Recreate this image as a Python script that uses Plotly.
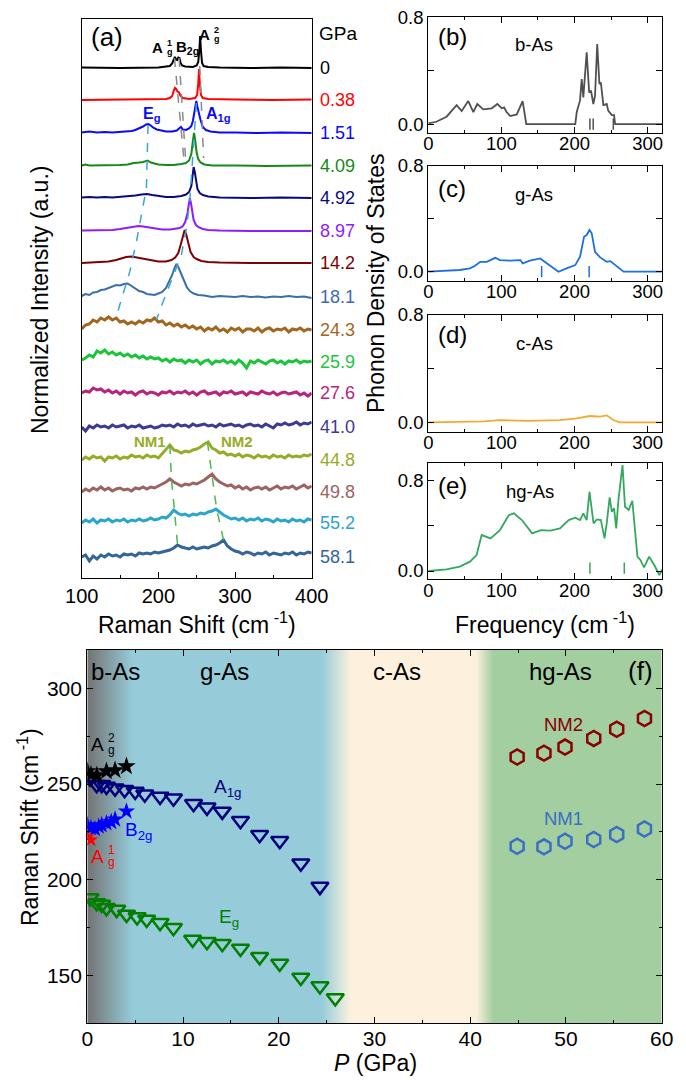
import plotly.graph_objects as go

W, H = 686, 1080
OFF = 8                      # page body margin of the browser
FW, FH = W - OFF, H - OFF    # figure size so that it fits the window
FONT = "Liberation Sans, Arial, sans-serif"

# ---------------- Panel (a): Raman spectra ----------------
PRESSURES = ["0", "0.38", "1.51", "4.09", "4.92", "8.97", "14.2", "18.1",
             "24.3", "25.9", "27.6", "41.0", "44.8", "49.8", "55.2", "58.1"]
OFFSETS = [51.0, 47.8, 44.5, 41.2, 38.0, 34.7, 31.5, 28.1,
           24.8, 21.6, 18.5, 15.1, 11.8, 8.6, 5.5, 2.1]
SPEC_COLORS = ["#000000", "#ff0000", "#0a0aff", "#168a16", "#0a0a80", "#8f1cff",
               "#7f0000", "#3a6eaa", "#a3661e", "#19c63a", "#b8237e", "#3b3b95",
               "#98ab28", "#9c6361", "#2aa5d0", "#33659b"]

S0_X = [100, 150, 200, 210, 215, 218, 220, 221.5, 223, 224.5, 226, 227.5, 229, 231, 235, 245, 250, 252, 253.5, 254.5, 255.5, 257, 259, 265, 280, 320, 360, 400]
S0_I = [0.05, 0.0, 0.05, 0.1, 0.2, 0.45, 0.9, 1.1, 0.85, 0.8, 1.05, 1.0, 0.5, 0.25, 0.15, 0.1, 0.25, 0.6, 1.8, 3.2, 1.8, 0.5, 0.2, 0.1, 0.05, 0.0, 0.05, 0.0]
S1_X = [100, 150, 200, 210, 215, 218, 220, 221.5, 223, 225, 227, 229, 232, 240, 248, 250.5, 252, 253, 254, 255.5, 258, 265, 300, 350, 400]
S1_I = [0.0, 0.05, 0.05, 0.1, 0.2, 0.4, 0.9, 1.2, 1.1, 0.85, 0.75, 0.4, 0.2, 0.1, 0.2, 0.5, 1.6, 3.1, 1.7, 0.5, 0.2, 0.1, 0.05, 0.0, 0.05]
S2_X = [100, 110, 120, 130, 140, 150, 160, 165, 170, 175, 180, 184, 187, 190, 194, 198, 203, 210, 218, 224, 227, 229.5, 232, 236, 240, 243, 245, 247, 248.5, 249.5, 251, 253, 255, 258, 262, 268, 280, 300, 330, 360, 400]
S2_I = [0.05, 0.15, 0.05, 0.1, 0.05, 0.1, 0.15, 0.2, 0.3, 0.45, 0.65, 0.85, 0.9, 0.75, 0.5, 0.35, 0.25, 0.15, 0.15, 0.25, 0.45, 0.6, 0.35, 0.3, 0.45, 0.7, 1.2, 2.2, 2.9, 3.2, 2.6, 1.9, 1.3, 0.6, 0.3, 0.15, 0.05, 0.05, 0.0, 0.05, 0.0]
S3_X = [100, 105, 110, 120, 130, 140, 150, 160, 168, 175, 180, 186, 190, 195, 200, 210, 220, 230, 236, 240, 243, 245, 246.5, 248, 250, 252, 255, 260, 270, 300, 340, 400]
S3_I = [0.05, 0.15, 0.05, 0.05, 0.05, 0.05, 0.1, 0.15, 0.3, 0.35, 0.4, 0.55, 0.35, 0.25, 0.15, 0.1, 0.1, 0.2, 0.3, 0.55, 1.2, 2.5, 3.3, 2.6, 1.3, 0.7, 0.35, 0.15, 0.05, 0.05, 0.0, 0.05]
S4_X = [100, 110, 120, 130, 140, 150, 160, 170, 178, 185, 192, 200, 210, 220, 230, 236, 240, 243, 245, 246, 247.5, 249, 251, 254, 258, 265, 280, 320, 360, 400]
S4_I = [0.05, 0.1, 0.05, 0.1, 0.05, 0.1, 0.15, 0.25, 0.35, 0.4, 0.3, 0.2, 0.1, 0.1, 0.2, 0.35, 0.6, 1.2, 2.3, 3.1, 2.6, 1.6, 0.9, 0.5, 0.3, 0.15, 0.05, 0.0, 0.05, 0.0]
S5_X = [100, 120, 140, 150, 160, 168, 174, 180, 188, 196, 205, 215, 222, 228, 232, 235, 238, 240, 241, 242.5, 244, 246, 249, 253, 258, 265, 280, 320, 400]
S5_I = [0.05, 0.05, 0.1, 0.2, 0.35, 0.45, 0.5, 0.45, 0.35, 0.2, 0.15, 0.15, 0.2, 0.3, 0.5, 0.9, 1.8, 2.8, 3.3, 2.8, 1.9, 1.1, 0.6, 0.35, 0.2, 0.1, 0.05, 0.0, 0.0]
S6_X = [100, 120, 135, 145, 152, 158, 165, 172, 180, 190, 200, 210, 217, 222, 226, 229, 232, 234.3, 236.5, 239, 242, 246, 250, 256, 265, 280, 320, 400]
S6_I = [0.0, 0.05, 0.15, 0.3, 0.45, 0.6, 0.65, 0.55, 0.4, 0.25, 0.15, 0.15, 0.3, 0.55, 1.0, 1.8, 2.8, 3.3, 2.8, 1.9, 1.1, 0.6, 0.4, 0.2, 0.1, 0.05, 0.0, 0.0]
S7_X = [100, 105, 110, 115, 120, 125, 130, 135, 140, 145, 150, 155, 160, 165, 170, 175, 180, 185, 190, 195, 200, 205, 210, 214, 218, 221, 223.5, 226, 229, 233, 237, 241, 246, 252, 260, 270, 280, 290, 300, 310, 320, 330, 340, 350, 360, 370, 380, 390, 400]
S7_I = [0.1, 0.3, 0.2, 0.45, 0.5, 0.7, 0.75, 0.9, 1.0, 1.2, 1.15, 1.3, 1.35, 1.1, 0.85, 0.6, 0.5, 0.3, 0.25, 0.2, 0.35, 0.5, 0.9, 1.5, 2.2, 2.9, 3.3, 3.0, 2.4, 1.6, 1.0, 0.6, 0.35, 0.2, 0.15, 0.0, 0.1, 0.05, 0.0, 0.1, 0.0, 0.05, -0.05, 0.05, 0.0, 0.1, 0.0, 0.05, -0.1]

NOISY_X = [100, 105, 110, 115, 120, 125, 130, 135, 140, 145, 150, 155, 160, 165, 170, 175, 180, 185, 190, 195,
           200, 205, 210, 215, 220, 225, 230, 235, 240, 245, 250, 255, 260, 265, 270, 275, 280, 285, 290, 295,
           300, 305, 310, 315, 320, 325, 330, 335, 340, 345, 350, 355, 360, 365, 370, 375, 380, 385, 390, 395, 400]
S8_I = [0.1, 0.5, 0.6, 1.0, 0.8, 1.2, 1.0, 1.3, 1.0, 1.2, 0.8, 0.9, 0.6, 0.8, 0.6, 0.9, 0.7, 1.0, 0.9, 1.2,
        0.8, 0.9, 0.5, 0.7, 0.4, 0.6, 0.3, 0.5, 0.2, 0.4, 0.1, 0.3, -0.1, 0.2, 0.0, 0.3, -0.1, 0.1, -0.2, 0.2,
        0.0, 0.2, -0.2, 0.1, 0.1, -0.1, 0.2, -0.2, 0.1, 0.2, -0.1, 0.1, 0.0, 0.2, -0.2, 0.1, 0.0, 0.2, -0.1, 0.1, 0.0]
S9_I = [0.2, 0.4, 0.7, 0.5, 1.1, 0.9, 1.2, 0.8, 1.0, 0.7, 0.9, 0.6, 0.8, 0.5, 0.7, 0.4, 0.6, 0.3, 0.5, 0.3,
        0.4, 0.1, 0.3, 0.0, 0.3, 0.1, 0.2, -0.1, 0.2, 0.0, 0.2, -0.2, 0.1, 0.2, -0.2, 0.1, 0.0, 0.2, -0.1, 0.1,
        -0.2, 0.2, -0.1, -0.6, 0.1, -0.1, 0.2, 0.0, -0.2, 0.1, 0.2, -0.1, 0.1, -0.2, 0.1, 0.0, 0.2, -0.1, 0.1, 0.0, 0.1]
S10_I = [0.0, 0.2, 0.1, 0.5, 0.3, 0.4, 0.1, 0.3, 0.0, 0.2, -0.1, 0.2, 0.0, 0.1, -0.2, 0.1, 0.2, -0.1, 0.1, 0.0,
         -0.2, 0.1, 0.0, 0.2, -0.1, 0.1, 0.0, 0.2, -0.1, 0.1, -0.2, 0.1, 0.2, -0.1, 0.0, 0.1, -0.2, 0.1, 0.0, 0.2,
         -0.1, 0.0, 0.1, -0.2, 0.1, 0.0, -0.1, 0.2, 0.0, -0.1, 0.1, -0.2, 0.0, 0.1, -0.1, 0.0, 0.1, -0.2, 0.0, -0.3, 0.0]
S11_I = [0.0, -0.4, 0.1, -0.1, 0.2, 0.0, 0.1, -0.1, 0.2, 0.0, 0.1, 0.2, -0.1, 0.1, 0.0, 0.2, -0.1, 0.0, 0.1, -0.1,
         0.0, 0.2, 0.1, 0.2, 0.0, 0.3, 0.1, 0.2, 0.0, 0.3, 0.1, 0.2, 0.3, 0.1, 0.2, 0.0, 0.3, 0.1, 0.2, 0.3,
         0.1, 0.2, 0.0, 0.2, 0.3, 0.1, 0.2, 0.0, 0.3, 0.1, -0.1, 0.3, 0.2, 0.4, 0.2, 0.3, 0.5, 0.2, 0.4, 0.3, 0.5]
S12_I = [0.0, 0.3, 0.1, 0.4, 0.2, 0.3, -0.1, 0.3, 0.2, 0.4, 0.1, 0.3, 0.2, 0.5, 0.3, 0.4, 0.2, 0.5, 0.3, 0.4,
         0.2, 0.6, 1.0, 1.5, 1.0, 0.9, 0.7, 0.9, 0.8, 1.0, 1.1, 1.3, 1.6, 1.8, 1.2, 1.0, 0.7, 0.8, 0.5, 0.6,
         0.4, 0.6, 0.3, 0.5, 0.4, 0.2, 0.5, 0.3, 0.4, 0.2, 0.5, 0.3, 0.4, 0.2, 0.5, 0.3, 0.4, 0.3, 0.5, 0.4, 0.6]
S13_I = [0.0, 0.3, 0.1, 0.4, 0.2, 0.5, 0.2, 0.4, 0.1, 0.3, 0.4, 0.2, 0.3, 0.1, 0.4, 0.3, 0.5, 0.3, 0.5, 0.4,
         0.6, 0.8, 1.0, 1.3, 1.0, 0.8, 0.6, 0.8, 0.7, 0.9, 0.8, 1.0, 1.2, 1.5, 1.8, 1.3, 1.0, 0.8, 0.6, 0.7,
         0.4, 0.6, 0.3, 0.5, 0.2, 0.4, 0.5, 0.3, 0.5, 0.2, 0.4, 0.6, 0.3, 0.5, 0.4, 0.6, 0.3, 0.5, 0.7, 0.4, 0.6]
S14_I = [0.0, 0.3, 0.1, 0.4, 0.0, 0.3, 0.2, 0.4, 0.1, 0.3, 0.2, 0.4, 0.1, 0.3, 0.2, 0.4, 0.2, 0.3, 0.5, 0.3,
         0.4, 0.6, 0.5, 0.8, 1.3, 1.0, 0.8, 0.9, 0.7, 0.9, 0.8, 1.0, 0.9, 1.1, 1.2, 1.4, 1.1, 0.8, 0.6, 0.4,
         0.5, 0.3, 0.5, 0.2, 0.4, 0.3, 0.5, 0.2, 0.4, 0.3, 0.1, 0.4, 0.2, 0.3, 0.1, 0.4, 0.2, 0.3, 0.1, 0.4, 0.3]
S15_I = [0.0, 0.2, -0.4, 0.1, -0.2, 0.2, 0.0, 0.3, 0.1, 0.2, 0.0, 0.3, 0.2, 0.3, 0.1, 0.4, 0.3, 0.4, 0.3, 0.5,
         0.4, 0.5, 0.6, 0.7, 0.9, 1.2, 1.0, 0.9, 0.8, 1.0, 0.8, 0.9, 1.0, 0.9, 1.1, 1.2, 1.4, 1.7, 1.1, 0.8,
         0.6, 0.5, 0.3, 0.5, 0.4, 0.2, 0.4, 0.3, 0.5, 0.2, 0.4, 0.3, 0.2, 0.4, 0.3, 0.5, 0.2, 0.4, 0.3, 0.5, 0.4]

SPEC_X = [S0_X, S1_X, S2_X, S3_X, S4_X, S5_X, S6_X, S7_X] + [NOISY_X] * 8
SPEC_I = [S0_I, S1_I, S2_I, S3_I, S4_I, S5_I, S6_I, S7_I,
          S8_I, S9_I, S10_I, S11_I, S12_I, S13_I, S14_I, S15_I]

# guide lines through peak positions (shift, stacked intensity)
GUIDE_AG1_X = [221, 234]; GUIDE_AG1_Y = [52.0, 41.3]
GUIDE_B2G_X = [227, 236]; GUIDE_B2G_Y = [52.0, 41.3]
GUIDE_AG2_X = [254, 259]; GUIDE_AG2_Y = [51.2, 42.0]
GUIDE_EG_X = [186.5, 184.4, 171.3, 162.6, 149.6, 145.3]
GUIDE_EG_Y = [45.3, 39.0, 33.6, 30.6, 27.3, 26.1]
GUIDE_A1G_X = [249.6, 240.9, 236.6, 230.0, 206.0, 197.4]
GUIDE_A1G_Y = [47.5, 37.6, 35.0, 32.3, 27.6, 25.8]
GUIDE_NM1_X = [215, 217, 221, 225]; GUIDE_NM1_Y = [13.3, 9.9, 6.8, 3.3]
GUIDE_NM2_X = [264, 270, 276, 285]; GUIDE_NM2_Y = [13.6, 10.4, 6.9, 3.8]

# ---------------- Panels (b)-(e): phonon DOS ----------------
B_FREQ = [0, 11, 25, 38.7, 45.6, 54.7, 61.6, 67, 75.3, 86.7, 94.5, 100.5, 103.6, 107, 112, 121, 129, 131.6, 134,
          201, 203, 207.5, 209.8, 212, 216.6, 220, 222.5, 225.7, 228, 231, 234, 236, 239.4, 244, 246, 251, 254, 255.5, 320]
B_DOS = [0.005, 0.017, 0.055, 0.142, 0.097, 0.172, 0.09, 0.15, 0.11, 0.118, 0.15, 0.118, 0.125, 0.09, 0.06, 0.072, 0.172, 0.067, 0.0,
         0.0, 0.09, 0.177, 0.337, 0.2, 0.537, 0.236, 0.25, 0.15, 0.21, 0.6, 0.3, 0.31, 0.142, 0.15, 0.1, 0.067, 0.067, 0.0, 0.0]
C_FREQ = [0, 43, 57, 64, 71, 80, 91.6, 98, 112, 126, 129, 139, 153, 162, 171, 178, 189, 201, 207.5, 213, 216.6, 220.4,
          223.5, 228, 235, 244, 249, 258, 267, 320]
C_DOS = [0.0, 0.013, 0.025, 0.045, 0.075, 0.075, 0.105, 0.088, 0.083, 0.088, 0.063, 0.083, 0.1, 0.063, 0.025, 0.0, 0.025, 0.05,
         0.113, 0.264, 0.277, 0.315, 0.29, 0.15, 0.108, 0.075, 0.08, 0.038, 0.0, 0.0]
D_FREQ = [0, 57, 76, 98, 135, 180, 203, 221, 235, 244, 253, 262, 320]
D_DOS = [0.0, 0.005, 0.007, 0.017, 0.01, 0.017, 0.03, 0.047, 0.042, 0.052, 0.017, 0.0, 0.0]
E_FREQ = [0, 25, 43, 57, 66, 70, 73, 85, 98, 110, 117, 128, 142, 154, 167, 180, 192, 201, 207.5, 212, 216.6, 220.4,
          226, 230.5, 236, 241, 244, 248, 251, 254, 257, 260, 265.6, 269, 274, 279, 282, 286, 290, 295, 302, 309, 316, 320]
E_DOS = [0.0, 0.015, 0.038, 0.082, 0.14, 0.243, 0.316, 0.287, 0.36, 0.49, 0.507, 0.448, 0.331, 0.36, 0.355, 0.375, 0.448,
         0.469, 0.448, 0.507, 0.448, 0.697, 0.419, 0.454, 0.448, 0.287, 0.419, 0.648, 0.521, 0.551, 0.375, 0.624, 0.932,
         0.565, 0.536, 0.618, 0.419, 0.126, 0.097, 0.032, 0.126, 0.053, -0.035, 0.015]
B_MODES = [221, 225.5, 253]
C_MODES = [155, 220]
E_MODES = [221, 268]
DOS_FREQ = [B_FREQ, C_FREQ, D_FREQ, E_FREQ]
DOS_VAL = [B_DOS, C_DOS, D_DOS, E_DOS]
DOS_MODES = [B_MODES, C_MODES, [], E_MODES]
DOS_LABELS = ["(b)", "(c)", "(d)", "(e)"]
DOS_PHASES = ["b-As", "g-As", "c-As", "hg-As"]
DOS_COLORS = ["#505050", "#1d6fe0", "#f2a930", "#34a85e"]

# ---------------- Panel (f): Raman shift vs pressure ----------------
AG2_P = [0.0, 0.38, 1.0, 2.0, 2.9, 4.09]
AG2_W = [256.6, 254.8, 254.5, 256.6, 257.2, 259.2]
B2G_P = [0.0, 0.38, 0.8, 1.2, 1.51, 2.0, 2.5, 2.9, 4.09]
B2G_W = [228.5, 227.0, 226.5, 227.8, 228.5, 229.5, 230.2, 231.5, 235.7]
AG1_P = [0.0, 0.38]
AG1_W = [222.4, 220.8]
A1G_P = [0.28, 0.98, 1.5, 2.0, 2.9, 3.9, 5.0, 6.0, 7.6, 9.0, 11.1, 12.5, 14.1, 16.0, 18.0, 20.1, 22.3, 24.3]
A1G_W = [253.0, 249.6, 249.6, 248.7, 247.8, 247.0, 246.1, 244.7, 243.5, 242.6, 239.7, 237.8, 235.7, 230.8, 223.5, 220.4, 208.6, 196.4]
EG_P = [0.28, 0.98, 1.5, 2.0, 3.07, 4.1, 5.2, 6.2, 7.6, 9.0, 11.0, 12.5, 14.1, 16.0, 18.0, 20.1, 22.3, 24.3, 25.9]
EG_W = [190.5, 187.9, 187.1, 185.3, 184.4, 181.8, 180.5, 179.2, 177.5, 174.9, 168.8, 167.6, 166.6, 164.1, 159.7, 156.2, 148.9, 144.5, 138.2]
NM_P = [44.9, 47.7, 49.9, 52.9, 55.3, 58.2]
NM2_W = [264.1, 266.1, 269.3, 273.8, 278.6, 284.2]
NM1_W = [217.5, 217.2, 220.1, 221.0, 223.6, 226.5]
# phase-region colour stops (pressure in GPa)
PHASE_P = [0.0, 4.8, 24.5, 27.5, 40.6, 42.4, 60.0]
PHASE_C = ["#737373", "#96ccda", "#96ccda", "#fdf1de", "#fdf1de", "#a2cea0", "#a2cea0"]
P_RANGE = [0, 60]
W_RANGE = [125, 320]


def dx(a, b):
    return [(a - OFF) / FW, (b - OFF) / FW]


def dy(top, bottom):
    return [1 - (bottom - OFF) / FH, 1 - (top - OFF) / FH]


def px(x):
    return (x - OFF) / FW


def py(y):
    return 1 - (y - OFF) / FH


fig = go.Figure()

# ---- (a) traces
for k, (xs, ys, off, col) in enumerate(zip(SPEC_X, SPEC_I, OFFSETS, SPEC_COLORS)):
    fig.add_trace(go.Scatter(x=xs, y=[off + v for v in ys], mode="lines",
                             line=dict(color=col, width=3.0 if k >= 8 else 2),
                             xaxis="x", yaxis="y", showlegend=False, hoverinfo="skip"))

for gx, gy, col in [(GUIDE_AG1_X, GUIDE_AG1_Y, "#8a8a8a"), (GUIDE_B2G_X, GUIDE_B2G_Y, "#8a8a8a"),
                    (GUIDE_AG2_X, GUIDE_AG2_Y, "#8a8a8a"), (GUIDE_EG_X, GUIDE_EG_Y, "#35a6d8"),
                    (GUIDE_A1G_X, GUIDE_A1G_Y, "#35a6d8"), (GUIDE_NM1_X, GUIDE_NM1_Y, "#4cba4c"),
                    (GUIDE_NM2_X, GUIDE_NM2_Y, "#4cba4c")]:
    fig.add_trace(go.Scatter(x=gx, y=gy, mode="lines", line=dict(color=col, width=1.5, dash="dash"),
                             xaxis="x", yaxis="y", showlegend=False, hoverinfo="skip"))

# ---- (b)-(e) traces
for i in range(4):
    n = i + 2
    fig.add_trace(go.Scatter(x=DOS_FREQ[i], y=DOS_VAL[i], mode="lines",
                             line=dict(color=DOS_COLORS[i], width=1.8),
                             xaxis=f"x{n}", yaxis=f"y{n}", showlegend=False, hoverinfo="skip"))
    if DOS_MODES[i]:
        ycen = 0.025 if i == 3 else 0.0
        fig.add_trace(go.Scatter(x=DOS_MODES[i], y=[ycen] * len(DOS_MODES[i]), mode="markers",
                                 marker=dict(symbol="line-ns", size=8,
                                             line=dict(width=1.5, color=DOS_COLORS[i])),
                                 xaxis=f"x{n}", yaxis=f"y{n}", showlegend=False, hoverinfo="skip"))

# ---- (f) background gradient for phase regions
span = P_RANGE[1] - P_RANGE[0]
scale = [[(p - P_RANGE[0]) / span, c] for p, c in zip(PHASE_P, PHASE_C)]
fig.add_trace(go.Scatter(
    x=[P_RANGE[0], P_RANGE[1], P_RANGE[1], P_RANGE[0], P_RANGE[0]],
    y=[W_RANGE[0], W_RANGE[0], W_RANGE[1], W_RANGE[1], W_RANGE[0]],
    fill="toself", mode="lines", line=dict(width=0),
    fillgradient=dict(type="horizontal", colorscale=scale),
    xaxis="x6", yaxis="y6", showlegend=False, hoverinfo="skip"))


def mk(pv, wv, symbol, size, color, lw=0):
    m = dict(symbol=symbol, size=size, color=color)
    if lw:
        m["line"] = dict(width=lw, color=color)
    fig.add_trace(go.Scatter(x=pv, y=wv, mode="markers", marker=m,
                             xaxis="x6", yaxis="y6", showlegend=False, hoverinfo="skip"))


mk(A1G_P, A1G_W, "triangle-down-open", 15, "#00007f", 2.5)
mk(EG_P, EG_W, "triangle-down-open", 15, "#007f00", 2.5)
mk(AG2_P, AG2_W, "star", 14, "#000000")
mk(B2G_P, B2G_W, "star", 13, "#0000ff")
mk(AG1_P, AG1_W, "star", 11, "#ff0000")
mk(NM_P, NM2_W, "hexagon-open", 15, "#8b0000", 2.5)
mk(NM_P, NM1_W, "hexagon-open", 15, "#3a6fc4", 2.5)

# ---------------- layout / axes ----------------
base = dict(showline=True, linecolor="black", linewidth=1.3, ticks="inside", tickcolor="black",
            tickwidth=1.3, ticklen=6, showgrid=False, zeroline=False, ticklabeloverflow="allow")

layout = dict(width=FW, height=FH, margin=dict(l=0, r=0, t=0, b=0, autoexpand=False),
              paper_bgcolor="white", plot_bgcolor="rgba(0,0,0,0)",
              font=dict(family=FONT, color="black"), showlegend=False)

layout["xaxis"] = dict(base, domain=dx(81.7, 311.7), range=[100, 400], anchor="y",
                       tickvals=[100, 200, 300, 400], mirror=True, ticklabelstandoff=0,
                       minor=dict(tickvals=[150, 250, 350], ticks="inside", ticklen=3, tickcolor="black"),
                       tickfont=dict(size=20, family=FONT))
layout["yaxis"] = dict(showline=True, linecolor="black", linewidth=1.3, mirror=True, ticks="",
                       showticklabels=False, showgrid=False, zeroline=False,
                       domain=dy(19, 578), range=[0, 55.9], anchor="x")

DOS_Y = [(17.3, 132.7), (165.7, 281), (315, 431.7), (463.3, 579.3)]
DOS_YR = [[-0.065, 0.8], [-0.07, 0.8], [-0.07, 0.8], [-0.073, 0.947]]
for i in range(4):
    n = i + 2
    layout[f"xaxis{n}"] = dict(base, domain=dx(428.3, 662.3), range=[0, 320], anchor=f"y{n}",
                               tickvals=[0, 100, 200, 300], mirror="allticks", ticklabelstandoff=-6,
                               minor=dict(tickvals=[50, 150, 250], ticks="inside", ticklen=3, tickcolor="black"),
                               tickfont=dict(size=18.5, family=FONT))
    layout[f"yaxis{n}"] = dict(base, domain=dy(*DOS_Y[i]), range=DOS_YR[i], anchor=f"x{n}",
                               tickvals=[0, 0.8], ticktext=["0.0", "0.8"], mirror="allticks",
                               minor=dict(tickvals=[0.4], ticks="inside", ticklen=6, tickcolor="black"),
                               tickfont=dict(size=18.5, family=FONT))

layout["xaxis6"] = dict(base, domain=dx(87.3, 661.7), range=P_RANGE, anchor="y6",
                        tickvals=[0, 10, 20, 30, 40, 50, 60], mirror="allticks", ticklabelstandoff=-4,
                        minor=dict(tickvals=[5, 15, 25, 35, 45, 55], ticks="inside", ticklen=3, tickcolor="black"),
                        tickfont=dict(size=21, family=FONT))
layout["yaxis6"] = dict(base, domain=dy(650, 1023.3), range=W_RANGE, anchor="x6",
                        tickvals=[150, 200, 250, 300], mirror="allticks",
                        minor=dict(tickvals=[175, 225, 275], ticks="inside", ticklen=3, tickcolor="black"),
                        tickfont=dict(size=21, family=FONT))
fig.update_layout(**layout)

ann = []


def A(text, x, y, xref, yref, size, color="black", xanchor="center", yanchor="middle",
      angle=0, xshift=0, yshift=0):
    ann.append(dict(text=text, x=x, y=y, xref=xref, yref=yref, showarrow=False,
                    font=dict(size=size, color=color, family=FONT), xanchor=xanchor,
                    yanchor=yanchor, textangle=angle, xshift=xshift, yshift=yshift))


def stacked(main, sup, sub, x, y, xref, yref, size, color, bold=False):
    b0, b1 = ("<b>", "</b>") if bold else ("", "")
    A(b0 + main + b1, x, y, xref, yref, size, color, xanchor="right")
    A(b0 + sup + b1, x, y, xref, yref, round(size * 0.62), color, xanchor="left", yshift=size * 0.33)
    A(b0 + sub + b1, x, y, xref, yref, round(size * 0.62), color, xanchor="left", yshift=-size * 0.3)


# axis titles
A("Normalized Intensity (a.u.)", px(40), py(300), "paper", "paper", 23, angle=-90)
A("Raman Shift (cm<sup> -1</sup>)", px(197), py(623), "paper", "paper", 23)
A("Phonon Density of States", px(376), py(283), "paper", "paper", 23, angle=-90)
A("Frequency (cm<sup> -1</sup>)", px(545), py(623), "paper", "paper", 23)
A("Raman Shift (cm<sup> -1</sup>)", px(28), py(827), "paper", "paper", 23, angle=-90)
A("<i>P</i> (GPa)", px(375), py(1063), "paper", "paper", 23)

# panel (a) labels
A("(a)", 109, 54.1, "x", "y", 26, xanchor="left")
A("GPa", px(317), 54.4, "paper", "y", 19, xanchor="left")
for p, off, col in zip(PRESSURES, OFFSETS, SPEC_COLORS):
    A(p, px(318), off, "paper", "y", 18, col, xanchor="left")
stacked("A", "1", "g", 208.3, 53.0, "x", "y", 15, "black", bold=True)
A("<b>B<sub>2g</sub></b>", 220.4, 53.0, "x", "y", 15, xanchor="left")
stacked("A", "2", "g", 270.0, 54.3, "x", "y", 15, "black", bold=True)
A("<b>E<sub>g</sub></b>", 177.8, 46.3, "x", "y", 16, "#0a0aff", xanchor="left")
A("<b>A<sub>1g</sub></b>", 259.1, 46.3, "x", "y", 16, "#0a0aff", xanchor="left")
A("<b>NM1</b>", 166.0, 13.6, "x", "y", 15, "#98ab28", xanchor="left")
A("<b>NM2</b>", 279.1, 13.6, "x", "y", 15, "#98ab28", xanchor="left")

# panels (b)-(e) labels
LBL_Y = [0.83, 0.80, 0.83, 0.81]
PH_Y = [0.76, 0.75, 0.76, 0.755]
PH_X = [0.452, 0.452, 0.452, 0.435]
for i in range(4):
    n = i + 2
    A(DOS_LABELS[i], 0.035, LBL_Y[i], f"x{n} domain", f"y{n} domain", 24, xanchor="left")
    A(DOS_PHASES[i], PH_X[i], PH_Y[i], f"x{n} domain", f"y{n} domain", 18.5)

# panel (f) labels
A("b-As", 0.2, 308.6, "x6", "y6", 24, xanchor="left")
A("g-As", 14.3, 308.6, "x6", "y6", 24)
A("c-As", 32.4, 308.6, "x6", "y6", 24)
A("hg-As", 49.4, 308.6, "x6", "y6", 24)
A("(f)", 57.8, 309.2, "x6", "y6", 26)
stacked("A", "2", "g", 1.96, 270.5, "x6", "y6", 19, "black")
stacked("A", "1", "g", 1.96, 212.3, "x6", "y6", 19, "#ff0000")
A("B<sub>2g</sub>", 3.7, 225.3, "x6", "y6", 19, "#0000ff", xanchor="left")
A("A<sub>1g</sub>", 13.0, 247.9, "x6", "y6", 19, "#00007f", xanchor="left")
A("E<sub>g</sub>", 13.5, 180.2, "x6", "y6", 19, "#007f00", xanchor="left")
A("NM2", 49.7, 281.2, "x6", "y6", 18.5, "#8b0000")
A("NM1", 49.7, 231.9, "x6", "y6", 18.5, "#3a6fc4")

fig.update_layout(annotations=ann)
fig.write_html("out.html")
